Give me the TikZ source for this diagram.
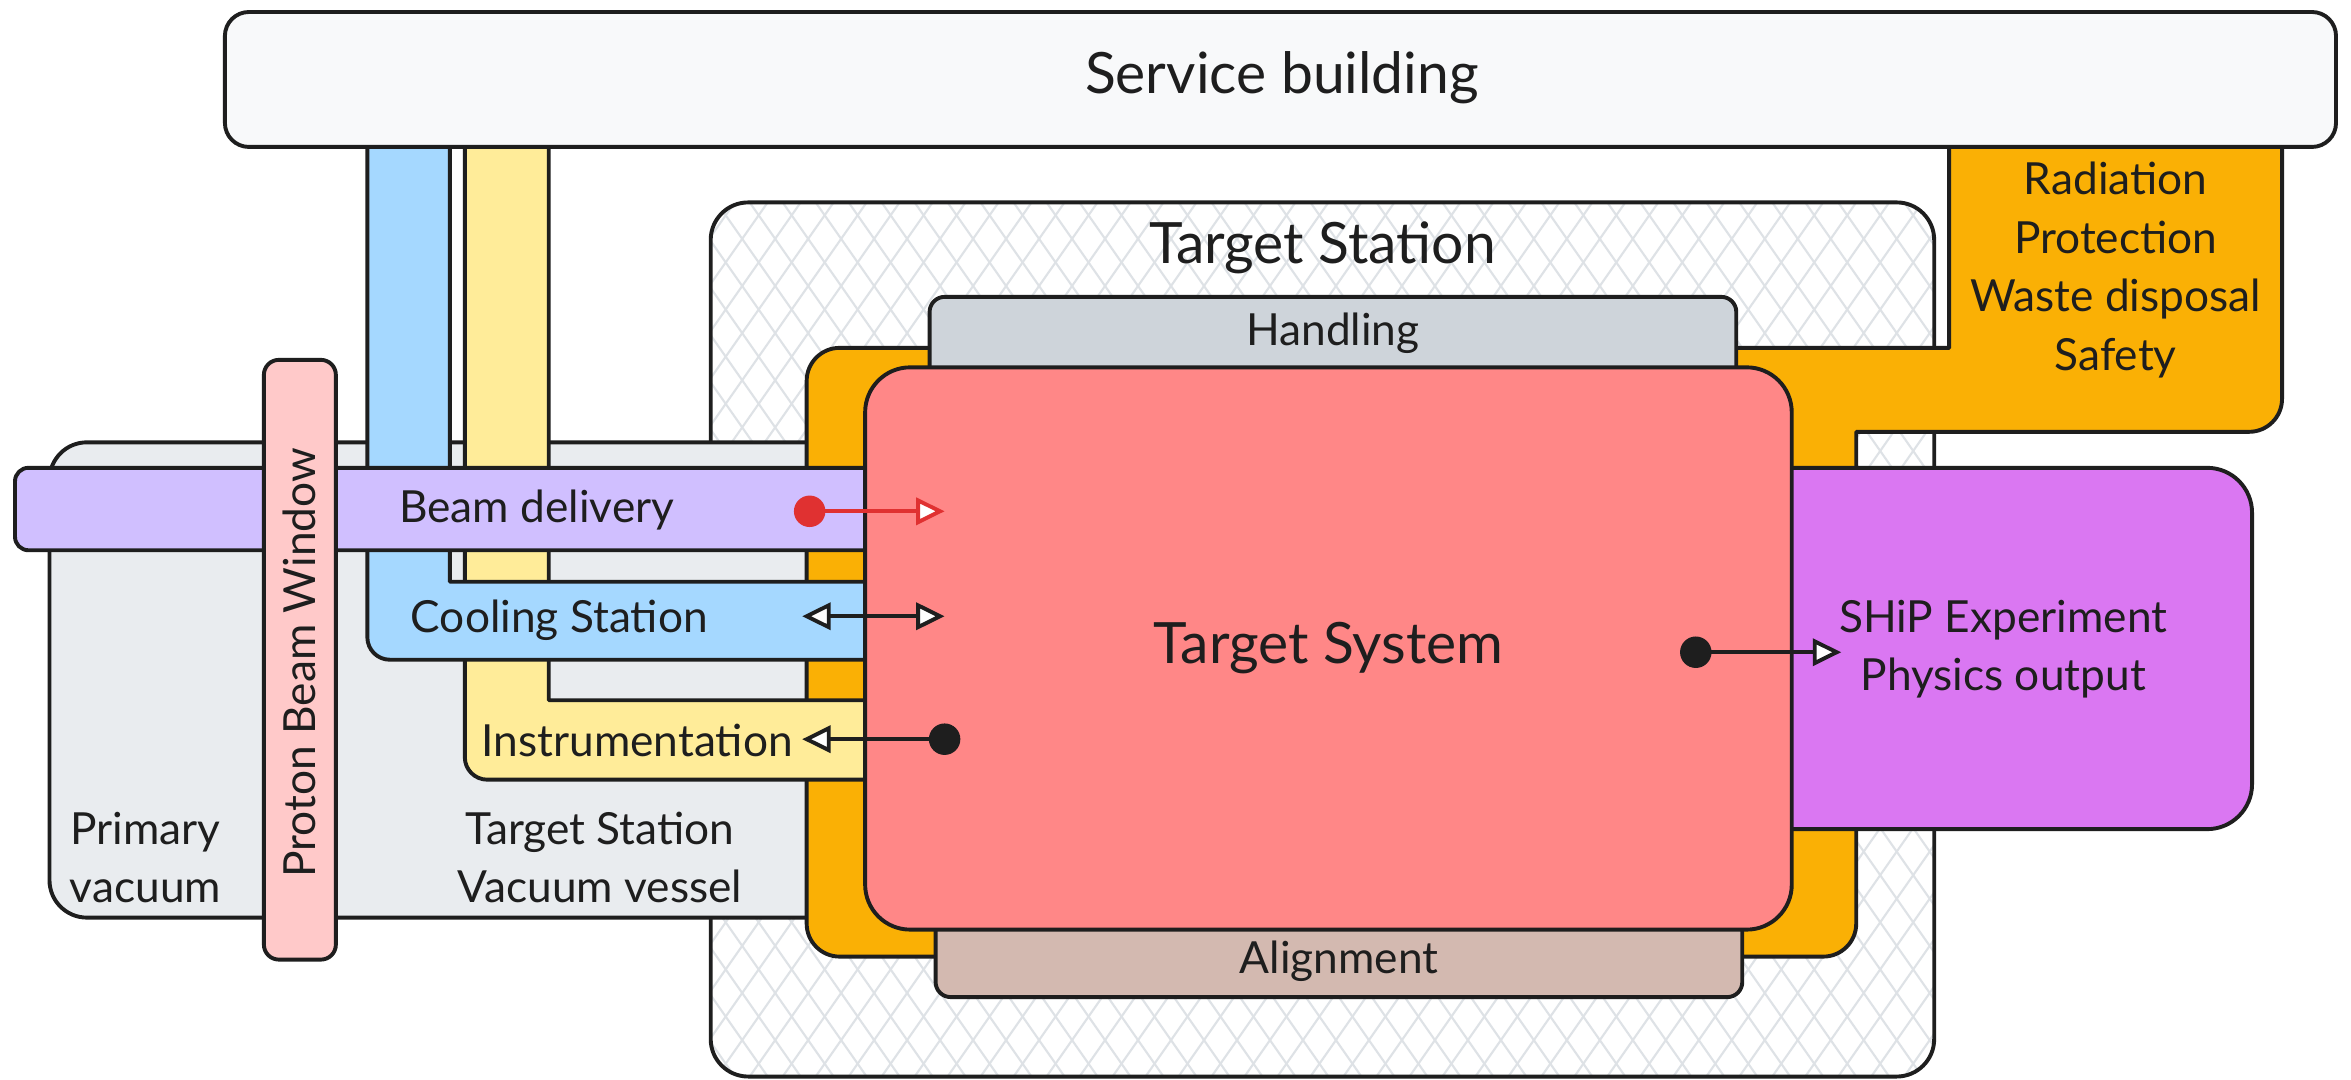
\documentclass[tikz,border=0pt]{standalone}
\usepackage{fontspec}
\setmainfont{Lato}
\usetikzlibrary{arrows.meta}
\definecolor{ink}{HTML}{1E1E1E}
\definecolor{svc}{HTML}{F8F9FA}
\definecolor{vac}{HTML}{E9ECEF}
\definecolor{hatchc}{HTML}{DEE2E6}
\definecolor{orng}{HTML}{FAB005}
\definecolor{beam}{HTML}{D0BFFF}
\definecolor{pbw}{HTML}{FFC9C9}
\definecolor{cool}{HTML}{A5D8FF}
\definecolor{instr}{HTML}{FFEC99}
\definecolor{handl}{HTML}{CED4DA}
\definecolor{tgt}{HTML}{FF8787}
\definecolor{algn}{HTML}{D3B9B0}
\definecolor{ship}{HTML}{DA77F2}
\definecolor{redarr}{HTML}{E03131}
\begin{document}
\begin{tikzpicture}[x=1pt,y=-1pt,line join=round,
  box/.style={draw=ink,line width=2.6pt},
  lbl/.style={text=ink,font=\fontsize{29.5}{39}\selectfont,align=center,inner sep=0pt},
  biglbl/.style={text=ink,font=\fontsize{38}{44}\selectfont,align=center,inner sep=0pt},
  dotnode/.style={circle,inner sep=0pt,minimum size=21pt},
  opentip/.tip={Triangle[length=19pt,width=18pt,fill=white]}]
\useasboundingbox (0,0) rectangle (1568,720);
\fill[white] (0,0) rectangle (1568,720);

% Target Station (hatched)
\begin{scope}
  \clip[rounded corners=25pt] (474,135) rectangle (1290,718);
  \fill[white] (474,135) rectangle (1290,718);
  \foreach \i in {0,...,57}{
    \draw[hatchc,line width=1.4pt] ({60+22*\i},135) -- ({60+22*\i+408},718);
    \draw[hatchc,line width=1.4pt] ({60+22*\i+408},135) -- ({60+22*\i},718);
  }
\end{scope}
\draw[box,rounded corners=25pt] (474,135) rectangle (1290,718);
\node[biglbl] (tsT) at (882,165) {Target Station};

% Vacuum vessel (gray)
\filldraw[box,fill=vac,rounded corners=25pt] (33,295) rectangle (580,612);
\node[lbl] (pvT) at (97,572) {Primary\\vacuum};
\node[lbl] (vvT) at (400,572) {Target Station\\Vacuum vessel};

% Orange frame + radiation protection
\filldraw[box,fill=orng] (1300,90) -- (1522,90)
  [rounded corners=22pt] -- (1522,288) [sharp corners] -- (1238,288)
  [rounded corners=22pt] -- (1238,638) -- (538,638) -- (538,232)
  [sharp corners] -- (1300,232) -- (1300,90) -- cycle;
\node[lbl] (radT) at (1411,180) {Radiation\\Protection\\Waste disposal\\Safety};

% Instrumentation (yellow L)
\filldraw[box,fill=instr] (366,90) -- (310,90)
  [rounded corners=15pt] -- (310,520) [sharp corners] -- (585,520) -- (585,467) -- (366,467) -- cycle;
% Cooling station (blue L)
\filldraw[box,fill=cool] (300,90) -- (245,90)
  [rounded corners=15pt] -- (245,440) [sharp corners] -- (585,440) -- (585,388) -- (300,388) -- cycle;
\node[lbl] (csT) at (373,414) {Cooling Station};
\node[lbl] (inT) at (425,494) {Instrumentation};

% Beam delivery (purple bar)
\filldraw[box,fill=beam,rounded corners=9pt] (10,312) rectangle (595,367);
\node[lbl] (bdT) at (358,340) {Beam delivery};

% Proton beam window
\filldraw[box,fill=pbw,rounded corners=10pt] (176,240) rectangle (224,640);
\node[lbl,rotate=90] (pbwT) at (200,442) {Proton Beam Window};

% Service building
\filldraw[box,fill=svc,rounded corners=16pt] (150,8) rectangle (1558,98);
\node[biglbl] (sbT) at (855,52) {Service building};

% Handling and Alignment
\filldraw[box,fill=handl,rounded corners=10pt] (620,198) rectangle (1158,265);
\node[lbl] (hdT) at (889,222) {Handling};
\filldraw[box,fill=algn,rounded corners=10pt] (624,600) rectangle (1162,665);
\node[lbl] (alT) at (893,641) {Alignment};

% SHiP experiment
\filldraw[box,fill=ship,rounded corners=30pt] (1160,312) rectangle (1502,553);

% Target system
\filldraw[box,fill=tgt,rounded corners=30pt] (577,245) rectangle (1195,620);
\node[biglbl] (tsysT) at (886,432) {Target System};

\node[lbl] (shipT) at (1336,433) {SHiP Experiment\\Physics output};

% connectors
\node[dotnode,fill=redarr] (bdsrc) at (540,341) {};
\coordinate (bddst) at (630,341);
\draw[redarr,line width=2.6pt,-{opentip}] (bdsrc.center) -- (bddst);

\coordinate (csa) at (535,411);
\coordinate (csb) at (630,411);
\draw[ink,line width=2.6pt,{opentip}-{opentip}] (csa) -- (csb);

\node[dotnode,fill=ink] (insrc) at (630,493) {};
\coordinate (indst) at (535,493);
\draw[ink,line width=2.6pt,-{opentip}] (insrc.center) -- (indst);

\node[dotnode,fill=ink] (shsrc) at (1131,435) {};
\coordinate (shdst) at (1228,435);
\draw[ink,line width=2.6pt,-{opentip}] (shsrc.center) -- (shdst);
\end{tikzpicture}
\end{document}
